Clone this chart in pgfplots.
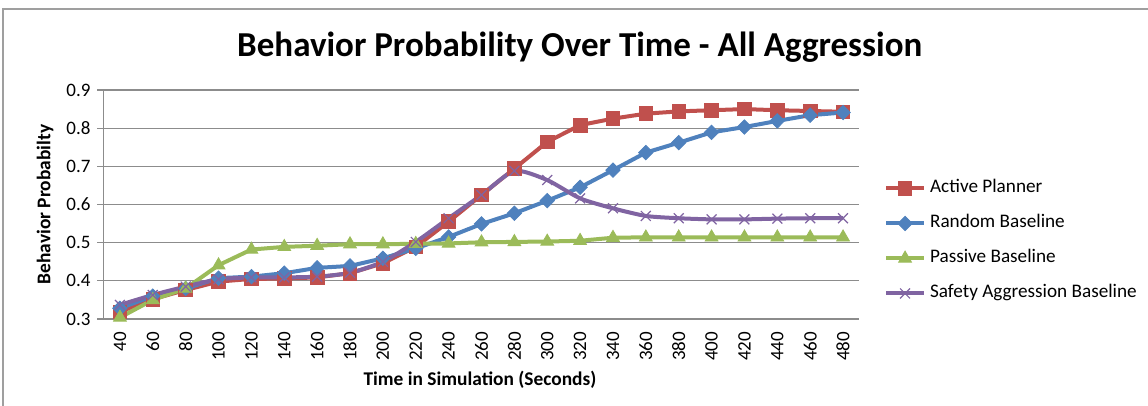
\documentclass[border=0pt]{standalone}
\usepackage{pgfplots}
\pgfplotsset{compat=1.18}
\usepackage{fontspec}
\setmainfont{Carlito}

\definecolor{cPlanner}{HTML}{C0504D}
\definecolor{cRandom}{HTML}{4F81BD}
\definecolor{cPassive}{HTML}{9BBB59}
\definecolor{cSafety}{HTML}{8064A2}
\definecolor{cGrid}{HTML}{8C8C8C}

\begin{document}
\begin{tikzpicture}
\useasboundingbox (0,0) rectangle (574pt,-203pt);
\draw[gray!75, line width=1pt] (1.5pt,-203pt) -- (1.5pt,-4.5pt) -- (574pt,-4.5pt);
\begin{axis}[
    at={(51.75pt,-159.5pt)}, anchor=south west,
    scale only axis, width=378pt, height=114.5pt,
    xmin=30, xmax=490,
    ymin=0.3, ymax=0.9,
    xtick={40,60,...,480},
    ytick={0.3,0.4,0.5,0.6,0.7,0.8,0.9},
    axis x line*=bottom, axis y line*=left,
    axis line style={cGrid, line width=0.6pt, -},
    ymajorgrids=true,
    grid style={cGrid, line width=0.6pt},
    xtick style={draw=none},
    ytick style={cGrid, line width=0.6pt},
    tick align=outside, major tick length=3pt,
    /pgf/number format/assume math mode=true,
    yticklabel style={/pgf/number format/.cd, fixed, precision=1, zerofill},
    ticklabel style={font=\fontsize{9.5}{11}\selectfont},
    xticklabel style={rotate=90, anchor=east},
    every axis title shift=0pt,
    title={Behavior Probability Over Time - All Aggression},
    title style={at={(0.63,1.188)}, anchor=center, font=\bfseries\fontsize{17.5}{20}\selectfont},
    xlabel={Time in Simulation (Seconds)},
    xlabel style={at={(0.498,-0.266)}, anchor=center, font=\bfseries\fontsize{9.7}{11}\selectfont},
    ylabel={Behavior Probabilty},
    ylabel style={at={(-0.0774,0.5)}, anchor=center, font=\bfseries\fontsize{9.7}{11}\selectfont},
    legend style={at={(1.032,0.609)}, anchor=north west, draw=none, fill=none,
        inner sep=0pt, row sep=9pt, column sep=2pt,
        nodes={inner sep=0pt, text height=6.5pt, text depth=2pt},
        font=\fontsize{9.6}{11}\selectfont},
    legend cell align=left,
    legend image code/.code={\draw[#1, mark repeat=2, mark phase=2] plot coordinates {(0pt,0pt) (9.5pt,0pt) (19pt,0pt)};},
]

\addplot[color=cPlanner, line width=2pt, mark=square*, mark size=3.4pt, mark options={line width=0.4pt}]
    coordinates {
    (40,0.319)(60,0.352)(80,0.376)(100,0.398)(120,0.405)(140,0.406)(160,0.409)(180,0.420)
    (200,0.446)(220,0.489)(240,0.555)(260,0.625)(280,0.694)(300,0.764)(320,0.808)(340,0.825)
    (360,0.838)(380,0.844)(400,0.847)(420,0.850)(440,0.847)(460,0.845)(480,0.843)
    };

\addplot[color=cRandom, line width=2pt, mark=diamond*, mark size=3.6pt, mark options={line width=0.4pt, xscale=1.33}]
    coordinates {
    (40,0.328)(60,0.360)(80,0.380)(100,0.407)(120,0.411)(140,0.420)(160,0.434)(180,0.439)
    (200,0.459)(220,0.485)(240,0.515)(260,0.549)(280,0.577)(300,0.610)(320,0.645)(340,0.690)
    (360,0.736)(380,0.762)(400,0.789)(420,0.803)(440,0.819)(460,0.834)(480,0.841)
    };

\addplot[color=cPassive, line width=2pt, mark=triangle*, mark size=3.7pt, mark options={line width=0.4pt}]
    coordinates {
    (40,0.304)(60,0.350)(80,0.380)(100,0.441)(120,0.482)(140,0.489)(160,0.492)(180,0.496)
    (200,0.496)(220,0.497)(240,0.498)(260,0.501)(280,0.502)(300,0.503)(320,0.505)(340,0.513)
    (360,0.514)(380,0.514)(400,0.514)(420,0.514)(440,0.514)(460,0.514)(480,0.514)
    };

\addplot[color=cSafety, line width=2pt, smooth, tension=0.4, mark=x, mark size=3.5pt, mark options={line width=0.6pt}]
    coordinates {
    (40,0.337)(60,0.363)(80,0.385)(100,0.404)(120,0.409)(140,0.409)(160,0.411)(180,0.421)
    (200,0.450)(220,0.502)(240,0.564)(260,0.625)(280,0.688)(300,0.664)(320,0.616)(340,0.590)
    (360,0.570)(380,0.564)(400,0.561)(420,0.561)(440,0.563)(460,0.564)(480,0.564)
    };

\legend{Active Planner,Random Baseline,Passive Baseline,Safety Aggression Baseline}
\end{axis}
\end{tikzpicture}
\end{document}
